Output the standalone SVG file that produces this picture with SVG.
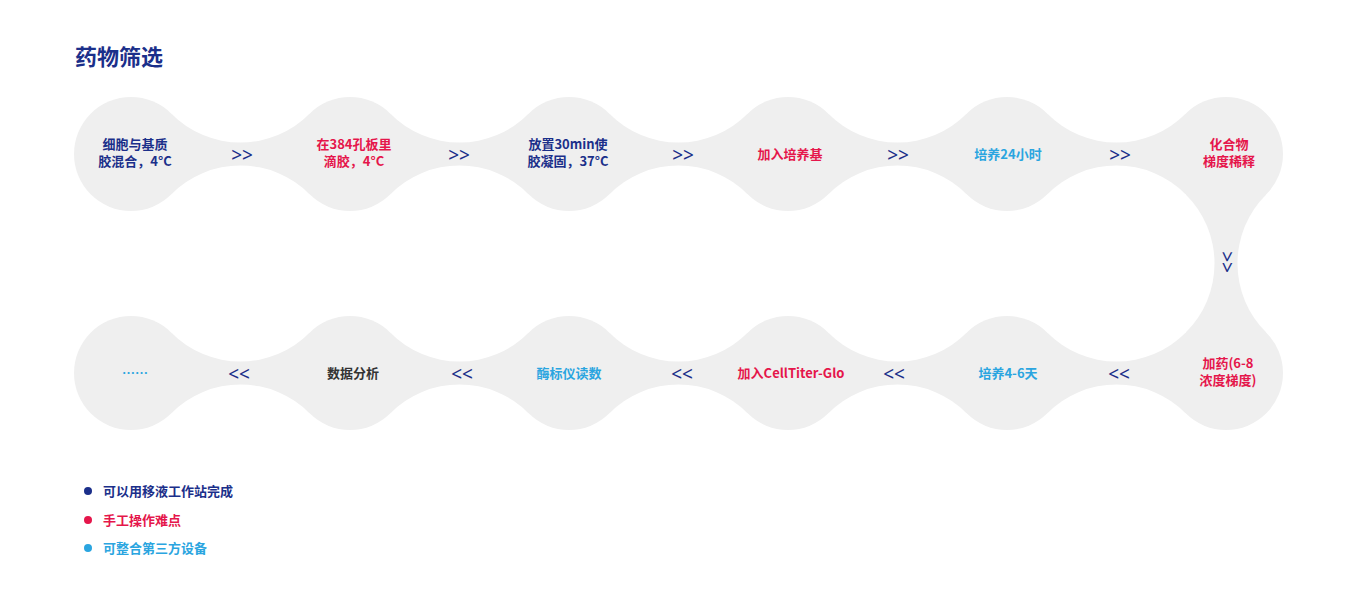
<svg xmlns="http://www.w3.org/2000/svg" width="1351" height="602" viewBox="0 0 1351 602">
<style>
text{font-family:"Noto Sans CJK SC","Noto Sans",sans-serif;font-weight:bold;text-anchor:middle}
.n{fill:#1b2f8a}.r{fill:#e5164b}.b{fill:#2aa5e0}.k{fill:#333}
.t{font-size:13px}
.a{font-size:19px;fill:#1b2f8a;font-weight:normal;font-family:"Noto Sans",sans-serif}
.s{fill:#efefef}
</style>
<rect width="1351" height="602" fill="#fff"/>
<text x="75" y="65" style="font-size:22px;text-anchor:start" class="n">药物筛选</text>
<g id="shape" class="s">
<circle cx="131" cy="154" r="57"/><circle cx="350" cy="154" r="57"/><circle cx="569" cy="154" r="57"/><circle cx="788" cy="154" r="57"/><circle cx="1007" cy="154" r="57"/><circle cx="1226" cy="154" r="57"/>
<circle cx="131" cy="373" r="57"/><circle cx="350" cy="373" r="57"/><circle cx="569" cy="373" r="57"/><circle cx="788" cy="373" r="57"/><circle cx="1007" cy="373" r="57"/><circle cx="1226" cy="373" r="57"/>
<path d="M171.4 113.8A97.5 97.5 0 0 0 309.6 113.8L309.6 194.2A97.5 97.5 0 0 0 171.4 194.2Z"/>
<path d="M390.4 113.8A97.5 97.5 0 0 0 528.6 113.8L528.6 194.2A97.5 97.5 0 0 0 390.4 194.2Z"/>
<path d="M609.4 113.8A97.5 97.5 0 0 0 747.6 113.8L747.6 194.2A97.5 97.5 0 0 0 609.4 194.2Z"/>
<path d="M828.4 113.8A97.5 97.5 0 0 0 966.6 113.8L966.6 194.2A97.5 97.5 0 0 0 828.4 194.2Z"/>
<path d="M1047.4 113.8A97.5 97.5 0 0 0 1185.6 113.8L1185.6 194.2A97.5 97.5 0 0 0 1047.4 194.2Z"/>
<path d="M171.4 332.8A97.5 97.5 0 0 0 309.6 332.8L309.6 413.2A97.5 97.5 0 0 0 171.4 413.2Z"/>
<path d="M390.4 332.8A97.5 97.5 0 0 0 528.6 332.8L528.6 413.2A97.5 97.5 0 0 0 390.4 413.2Z"/>
<path d="M609.4 332.8A97.5 97.5 0 0 0 747.6 332.8L747.6 413.2A97.5 97.5 0 0 0 609.4 413.2Z"/>
<path d="M828.4 332.8A97.5 97.5 0 0 0 966.6 332.8L966.6 413.2A97.5 97.5 0 0 0 828.4 413.2Z"/>
<path d="M1047.4 332.8A97.5 97.5 0 0 0 1185.6 332.8L1185.6 413.2A97.5 97.5 0 0 0 1047.4 413.2Z"/>
<path d="M1185.8 194.4A97.5 97.5 0 0 1 1185.8 332.6L1266.2 332.6A97.5 97.5 0 0 1 1266.2 194.4Z"/>
</g>
<g id="connectors">
<text class="a" x="242" y="162">&gt;&gt;</text>
<text class="a" x="459" y="162">&gt;&gt;</text>
<text class="a" x="683" y="162">&gt;&gt;</text>
<text class="a" x="898" y="162">&gt;&gt;</text>
<text class="a" x="1120" y="162">&gt;&gt;</text>
<text class="a" x="0" y="0" transform="translate(1220 262) rotate(90)">&gt;&gt;</text>
<text class="a" x="1119" y="381">&lt;&lt;</text>
<text class="a" x="894" y="381">&lt;&lt;</text>
<text class="a" x="682" y="381">&lt;&lt;</text>
<text class="a" x="462" y="381">&lt;&lt;</text>
<text class="a" x="239" y="381">&lt;&lt;</text>
</g>
<g id="n1" class="t n"><text x="135" y="149">细胞与基质</text><text x="135" y="166">胶混合，4°C</text></g>
<g id="n2" class="t r"><text x="354" y="149">在384孔板里</text><text x="354" y="166">滴胶，4°C</text></g>
<g id="n3" class="t n"><text x="568" y="149">放置30min使</text><text x="568" y="166">胶凝固，37°C</text></g>
<g id="n4" class="t r"><text x="790" y="159">加入培养基</text></g>
<g id="n5" class="t b"><text x="1008" y="159">培养24小时</text></g>
<g id="n6" class="t r"><text x="1229" y="149">化合物</text><text x="1229" y="166">梯度稀释</text></g>
<g id="n7" class="t r"><text x="1228" y="368">加药(6-8</text><text x="1228" y="385">浓度梯度)</text></g>
<g id="n8" class="t b"><text x="1008" y="378">培养4-6天</text></g>
<g id="n9" class="t r"><text x="791" y="378">加入CellTiter-Glo</text></g>
<g id="n10" class="t b"><text x="569" y="378">酶标仪读数</text></g>
<g id="n11" class="t k"><text x="353" y="378">数据分析</text></g>
<g id="n12" class="t b"><text x="135" y="378">……</text></g>
<g id="legend" style="font-size:13px">
<circle cx="88" cy="491" r="4" class="n"/><text x="103" y="496" class="n" style="text-anchor:start">可以用移液工作站完成</text>
<circle cx="88" cy="520" r="4" class="r"/><text x="103" y="525" class="r" style="text-anchor:start">手工操作难点</text>
<circle cx="88" cy="548" r="4" class="b"/><text x="103" y="553" class="b" style="text-anchor:start">可整合第三方设备</text>
</g>
</svg>
